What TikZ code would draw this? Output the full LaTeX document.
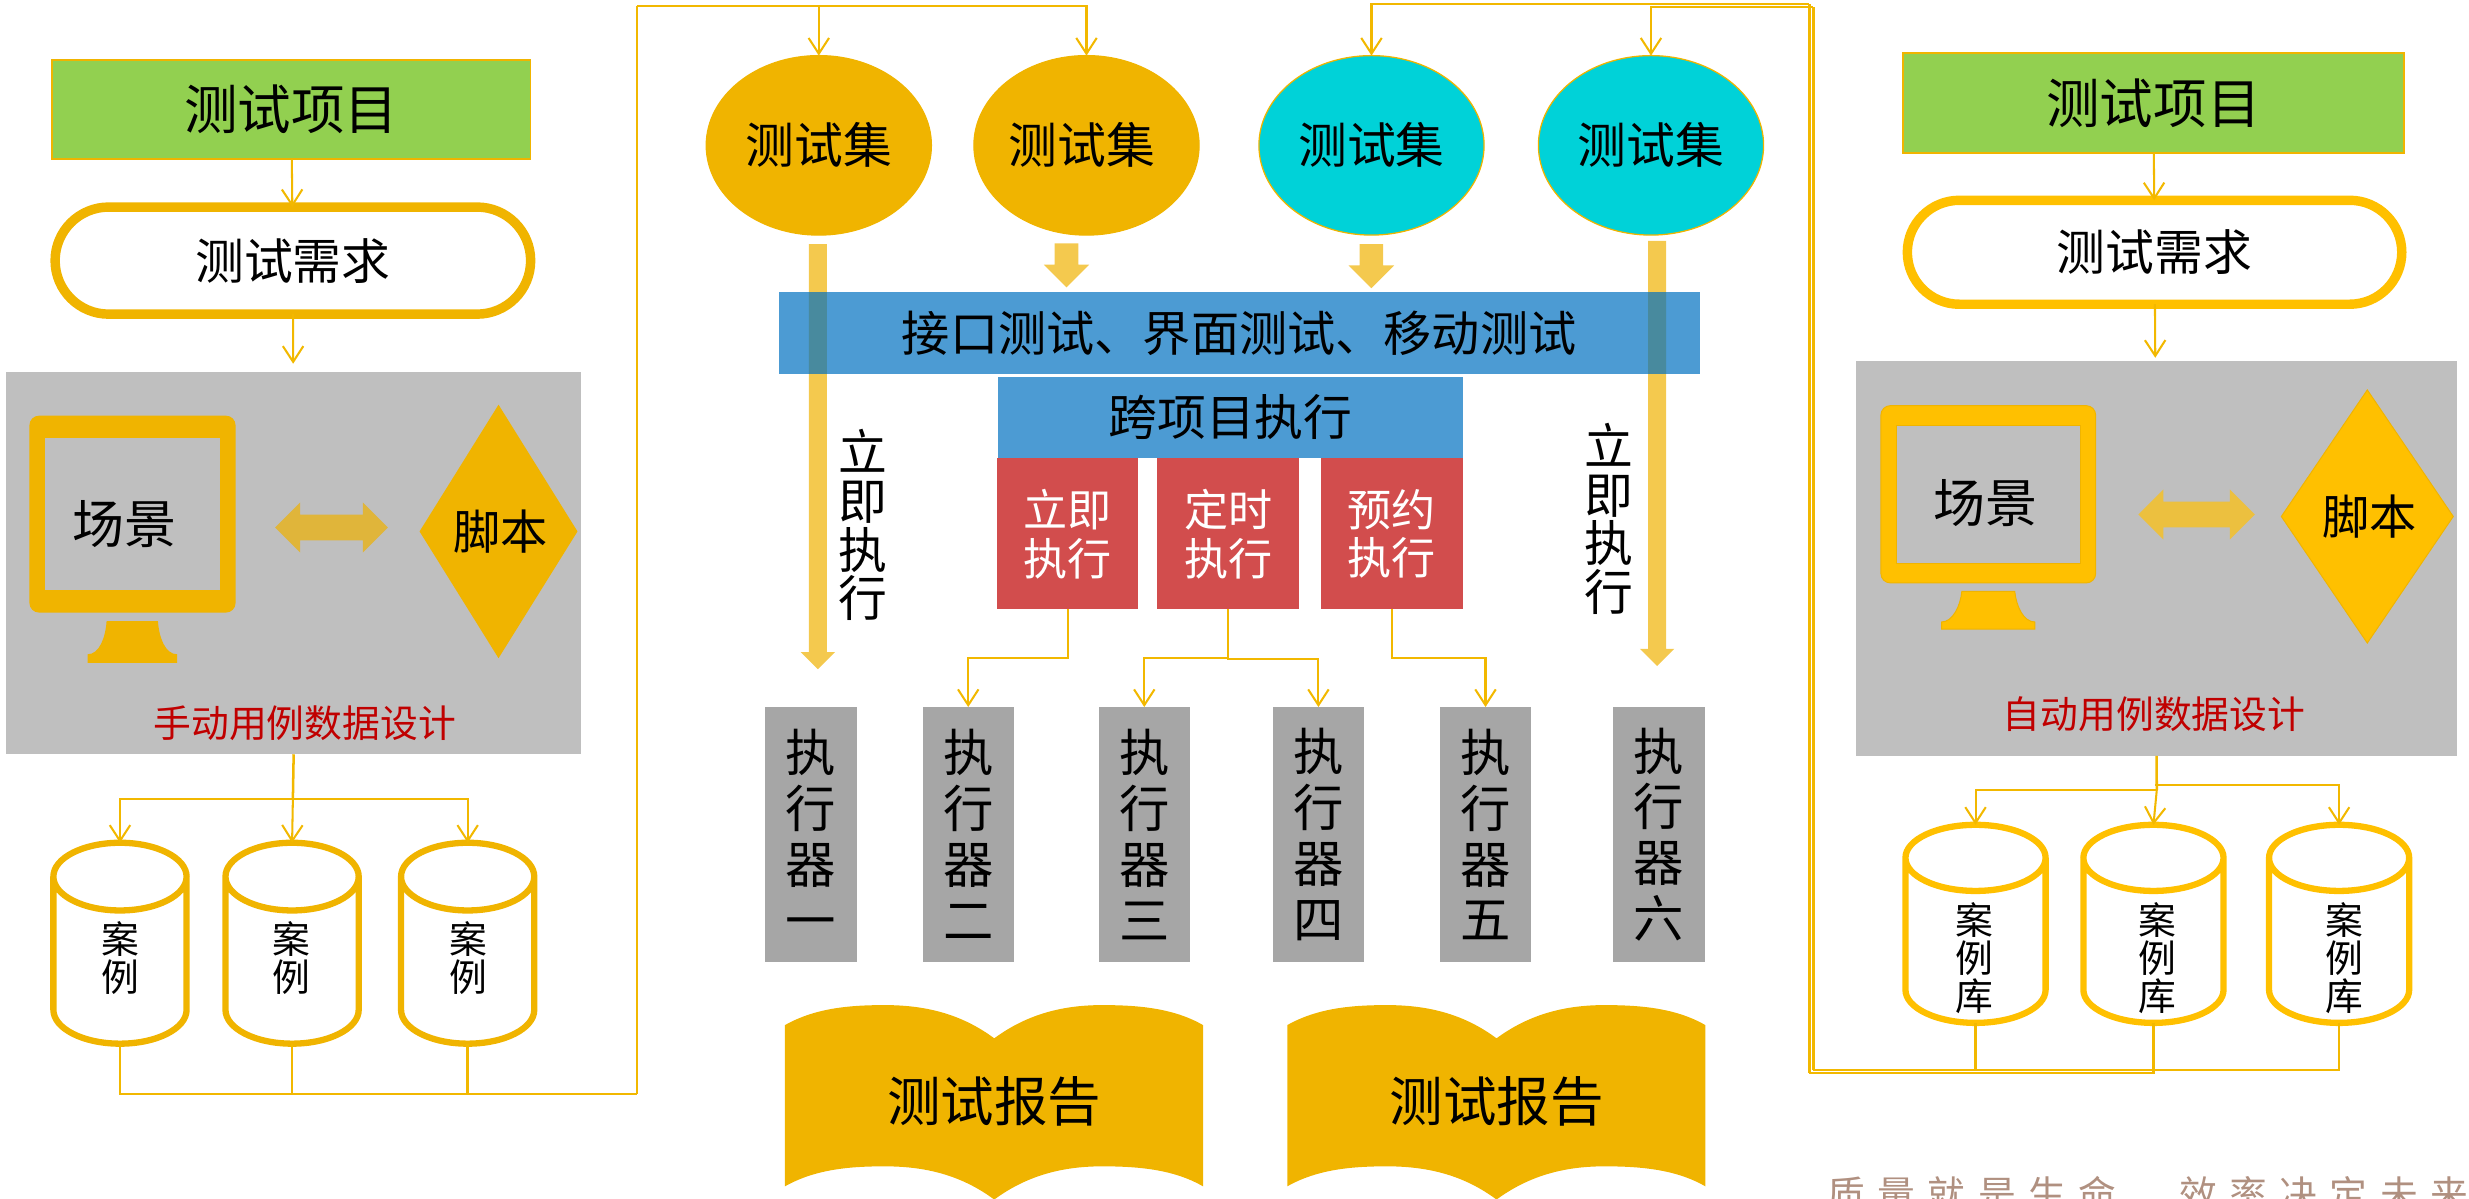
\documentclass[tikz,border=0pt]{standalone}
\usepackage{fontspec}
\setmainfont{Noto Sans CJK SC}
\newfontfamily\markfont[LetterSpace=33]{Noto Sans CJK SC}
\usepackage{xcolor}
\usepackage{tikz}
\usetikzlibrary{shapes.geometric, shapes.misc, shapes.arrows, arrows.meta, positioning}

\definecolor{darkgold}{HTML}{F0B400}
\definecolor{brightgold}{HTML}{FFC000}
\definecolor{linegold}{HTML}{F2B800}
\definecolor{leafgreen}{HTML}{92D050}
\definecolor{panelgrey}{HTML}{BFBFBF}
\definecolor{execgrey}{HTML}{A6A6A6}
\definecolor{aqua}{HTML}{00D2D8}
\definecolor{barblue}{HTML}{0070C0}
\definecolor{runred}{HTML}{D24D4D}
\definecolor{fatyellow}{HTML}{F4C94E}
\definecolor{swapdark}{HTML}{E0B53A}
\definecolor{swaplight}{HTML}{ECC03F}
\definecolor{darkred}{HTML}{C00000}
\definecolor{markbrown}{HTML}{B09080}

\tikzset{
  plain/.style={inner sep=0pt, outer sep=0pt, align=center},
  fs34/.style={font=\fontsize{17pt}{20pt}\selectfont},
  fs31/.style={font=\fontsize{15.5pt}{18pt}\selectfont},
  fs24/.style={font=\fontsize{12pt}{14pt}\selectfont},
  project/.style={plain, fs34, rectangle, fill=leafgreen, draw=darkgold, line width=.5pt},
  need/.style={plain, fs31, rounded rectangle, draw=#1, line width=3pt, fill=white},
  panel/.style={plain, rectangle, fill=panelgrey},
  script/.style={plain, font=\fontsize{15pt}{18pt}\selectfont, diamond, fill=#1},
  swap/.style={plain, inner sep=3.9pt, double arrow, fill=#1, double arrow head extend=3.85pt, minimum width=15.5pt, minimum height=37pt},
  case/.style={plain, rectangle},
  casetext/.style={plain, font=\fontsize{12pt}{12pt}\selectfont},
  testset/.style={plain, fs31, ellipse, fill=#1, draw=darkgold, line width=.4pt, minimum width=71.5pt, minimum height=57pt},
  longarrow/.style={plain, inner sep=2.65pt, single arrow, fill=fatyellow, shape border rotate=270, anchor=tip, single arrow head extend=2.6pt, minimum width=10.5pt, minimum height=135pt},
  shortarrow/.style={plain, inner sep=3.55pt, single arrow, fill=fatyellow, shape border rotate=270, anchor=tip, single arrow head extend=3.45pt, minimum width=14pt, minimum height=14pt},
  bluebar/.style={plain, rectangle, fill=barblue, fill opacity=.7, text opacity=1},
  runbox/.style={plain, rectangle, fill=runred, text=white, font=\fontsize{14pt}{15.5pt}\selectfont, minimum height=48pt},
  exec/.style={plain, rectangle, fill=execgrey, minimum width=29pt, minimum height=81pt, font=\fontsize{16pt}{17.75pt}\selectfont},
  runtext/.style={plain, font=\fontsize{15.5pt}{15.5pt}\selectfont},
  link/.style={draw=linegold, line width=.65pt, ->},
  bus/.style={draw=linegold, line width=.8pt}
}
\newcommand{\reportpath}{(498.5,651) .. controls (518,640) and (540,638.3) .. (562,638.3) .. controls (590,638.3) and (612,645) .. (631.4,659.4) .. controls (651,645) and (673,638.3) .. (699.8,638.3) .. controls (722,638.3) and (745,640) .. (764,651) -- (764,753.4) .. controls (745,742.4) and (722,740.7) .. (699.8,740.7) .. controls (673,740.7) and (651,747.4) .. (631.4,761.8) .. controls (612,747.4) and (590,740.7) .. (562,740.7) .. controls (540,740.7) and (518,742.4) .. (498.5,753.4) -- cycle}
\newcommand{\casedrum}[4]{\draw [draw=#2, fill=white, line width=2pt] ([yshift=-#4]#1.north west) -- ([yshift=#4]#1.south west) arc [start angle=180, end angle=360, x radius=#3, y radius=#4] -- ([yshift=-#4]#1.north east) arc [start angle=0, end angle=180, x radius=#3, y radius=#4] -- cycle ([yshift=-#4]#1.north) ellipse [x radius=#3, y radius=#4];}

\begin{document}
\begin{tikzpicture}[x=0.5pt, y=-0.5pt, >={Straight Barb[length=5pt,width=6.5pt]}]
\clip (0,0) rectangle (1568,761);

\node [project, minimum width=152pt, minimum height=31.5pt] (proj1) at (185,69.5) {测试项目};
\node [need=darkgold, minimum width=151pt, minimum height=34pt] (need1) at (186,165.5) {测试需求};
\node [panel, minimum width=182.5pt, minimum height=121.5pt] (panel1) at (186.5,357.5) {};
\fill [darkgold, rounded corners=3] (18.7,264) rectangle (149.6,389);
\fill [panelgrey] (28.5,278.2) rectangle (139.7,375);
\fill [darkgold] (67.7,394.4) -- (100.3,394.4) .. controls (101,405) and (105,415.5) .. (112.5,415.5) -- (112.5,421) -- (55.7,421) -- (55.7,415.5) .. controls (63,415.5) and (67,405) .. (67.7,394.4) -- cycle;
\node [plain, font=\fontsize{16.5pt}{20pt}\selectfont] (scene1) at (79,333) {场景};
\node [swap=swapdark, minimum height=35.8pt] (swap1) at (210.5,335) {};
\node [script=darkgold, minimum width=50.15pt, minimum height=80.5pt] (script1) at (316.6,337.5) {\kern1.5pt 脚本};
\node [plain, fs24, text=darkred] (manual) at (193.5,459.4) {手动用例数据设计};
\node [case, minimum width=42.3pt, minimum height=63.8pt] (case1) at (76.2,599) {};
\node [case, minimum width=42.3pt, minimum height=63.8pt] (case2) at (185.5,599) {};
\node [case, minimum width=42.3pt, minimum height=63.8pt] (case3) at (297,599) {};
\casedrum{case1}{darkgold}{21.15pt}{10.75pt}
\casedrum{case2}{darkgold}{21.15pt}{10.75pt}
\casedrum{case3}{darkgold}{21.15pt}{10.75pt}
\node [casetext] (label1) at (76.5,608.6) {案\\例};
\node [casetext] (label2) at (185,608.6) {案\\例};
\node [casetext] (label3) at (297.5,608.6) {案\\例};

\coordinate (fork1) at (186,507.4);
\coordinate (outl) at (404.4,694.8);
\coordinate (topl) at (404.4,4);
\draw [link] (proj1) -- (need1);
\draw [link, shorten >=2.5pt] (need1) -- (panel1);
\draw [bus] (panel1.south) -- (fork1);
\draw [link] (fork1) -| (case1.north);
\draw [link] (fork1) -- (case2.north);
\draw [link] (fork1) -| (case3.north);
\draw [bus] (case1.south) |- (outl);
\draw [bus] (case2.south) -- (case2.south |- outl);
\draw [bus] (case3.south) -- (case3.south |- outl);
\draw [bus] (outl) -- (topl);

\node [testset=darkgold] (set1) at (520,92.3) {测试集};
\node [testset=darkgold] (set2) at (690,92.3) {测试集\kern3pt};
\node [testset=aqua] (set3) at (871,92.3) {测试集};
\node [testset=aqua] (set4) at (1048.5,92.3) {测试集};
\draw [link] (topl) -| (set1.north);
\draw [link] (topl) -| (set2.north);

\node [longarrow] (go1) at (519.4,425) {};
\node [shortarrow] (go2) at (677.3,182.5) {};
\node [shortarrow] (go3) at (870.9,183) {};
\node [longarrow] (go4) at (1052.4,423) {};
\node [bluebar, fs31, font=\fontsize{15.3pt}{18pt}\selectfont, minimum width=292.5pt, minimum height=26pt] (types) at (787,211.5) {接口测试、界面测试、移动测试};
\node [bluebar, fs31, minimum width=147.5pt, minimum height=25.7pt] (cross) at (781.5,265) {跨项目执行};
\node [runbox, minimum width=45pt] (run1) at (678,339) {立即\\执行};
\node [runbox, minimum width=45pt] (run2) at (780,339) {定时\\执行};
\node [runbox, minimum width=45pt] (run3) at (884,339) {预约\\执行};
\node [runtext] (now1) at (547.7,333.5) {立\\即\\执\\行};
\node [runtext] (now2) at (1022,329.5) {立\\即\\执\\行};

\node [exec] (exec1) at (515,530) {执\\行\\器\\一};
\node [exec] (exec2) at (614.9,530) {执\\行\\器\\二};
\node [exec] (exec3) at (726.7,530) {执\\行\\器\\三};
\node [exec] (exec4) at (837.3,530) {执\\行\\器\\四};
\node [exec] (exec5) at (943.4,530) {执\\行\\器\\五};
\node [exec] (exec6) at (1053.5,530) {执\\行\\器\\六};
\coordinate (bend1) at (678,417.7);
\coordinate (bend2) at (780,417.7);
\coordinate (bend3) at (780,418.7);
\coordinate (bend4) at (884,417.7);
\draw [link] (run1.south) -- (bend1) -| (exec2.north);
\draw [link] (run2.south) -- (bend2) -| (exec3.north);
\draw [link] (run2.south) -- (bend3) -| (exec4.north);
\draw [link] (run3.south) -- (bend4) -| (exec5.north);

\fill [darkgold] \reportpath;
\fill [darkgold, shift={(319,0)}] \reportpath;
\node [plain, fs34] (report1) at (631.5,699.7) {测试报告};
\node [plain, fs34] (report2) at (950.5,699.7) {测试报告};

\node [project, minimum width=159pt, minimum height=31.7pt] (proj2) at (1367.6,65.5) {测试项目};
\node [need=brightgold, minimum width=157pt, minimum height=33pt] (need2) at (1368.3,160.2) {测试需求};
\node [panel, minimum width=191pt, minimum height=125.4pt] (panel2) at (1369.6,354.6) {};
\fill [brightgold, draw=darkgold, line width=.3pt, rounded corners=3] (1194.5,257.6) rectangle (1330.9,370.2);
\fill [panelgrey, draw=darkgold, line width=.3pt] (1204.5,269.9) rectangle (1321,358);
\fill [brightgold, draw=darkgold, line width=.3pt] (1245.9,375.5) -- (1279.5,375.5) .. controls (1280.5,385) and (1285,395) .. (1292.3,395) -- (1292.3,399.5) -- (1233,399.5) -- (1233,395) .. controls (1240,395) and (1245,385) .. (1245.9,375.5) -- cycle;
\node [plain, font=\fontsize{16.5pt}{20pt}\selectfont] (scene2) at (1261,319.6) {场景};
\node [swap=swaplight] (swap2) at (1395,326.7) {};
\node [script=brightgold, draw=darkgold, line width=.3pt, minimum width=54.6pt, minimum height=80.4pt] (script2) at (1503.4,328) {\kern1.5pt 脚本};
\node [plain, fs24, text=darkred] (auto) at (1368,453.6) {自动用例数据设计};
\node [case, minimum width=44.5pt, minimum height=62.9pt] (case4) at (1254.6,586.7) {};
\node [case, minimum width=44.5pt, minimum height=62.9pt] (case5) at (1367.6,586.7) {};
\node [case, minimum width=44.5pt, minimum height=62.9pt] (case6) at (1485.5,586.7) {};
\casedrum{case4}{brightgold}{22.25pt}{10.5pt}
\casedrum{case5}{brightgold}{22.25pt}{10.5pt}
\casedrum{case6}{brightgold}{22.25pt}{10.5pt}
\node [casetext] (label4) at (1254,608.5) {案\\例\\库};
\node [casetext] (label5) at (1370,608.5) {案\\例\\库};
\node [casetext] (label6) at (1489,608.5) {案\\例\\库};

\coordinate (fork2) at (1368.5,498.6);
\coordinate (fork3) at (1369.7,501.7);
\coordinate (outa) at (1151.6,679.6);
\coordinate (outb) at (1149,681.5);
\coordinate (topa) at (1151.6,4.2);
\coordinate (topb) at (1149,2.5);
\draw [link] (proj2) -- (need2);
\draw [link, shorten >=1pt] (need2) -- (panel2);
\draw [bus] (panel2.south) -- (fork3);
\draw [link] (fork3) -| (case4.north);
\draw [link] (fork3) -- (case5.north);
\draw [link] (fork2) -| (case6.north);
\draw [bus] (case4.south) -- (case4.south |- outa);
\draw [bus] (case6.south) |- (outa);
\draw [bus] (case5.south) |- (outb);
\draw [bus] (outa) -- (topa);
\draw [bus] (outb) -- (topb);
\draw [link] (topa) -| (set4.north);
\draw [link] (topb) -| (set3.north);

\node [plain, anchor=center, text=markbrown, font=\markfont\fontsize{12pt}{14pt}\selectfont] (motto) at (1364,758) {质量就是生命　效率决定未来};
\end{tikzpicture}
\end{document}
